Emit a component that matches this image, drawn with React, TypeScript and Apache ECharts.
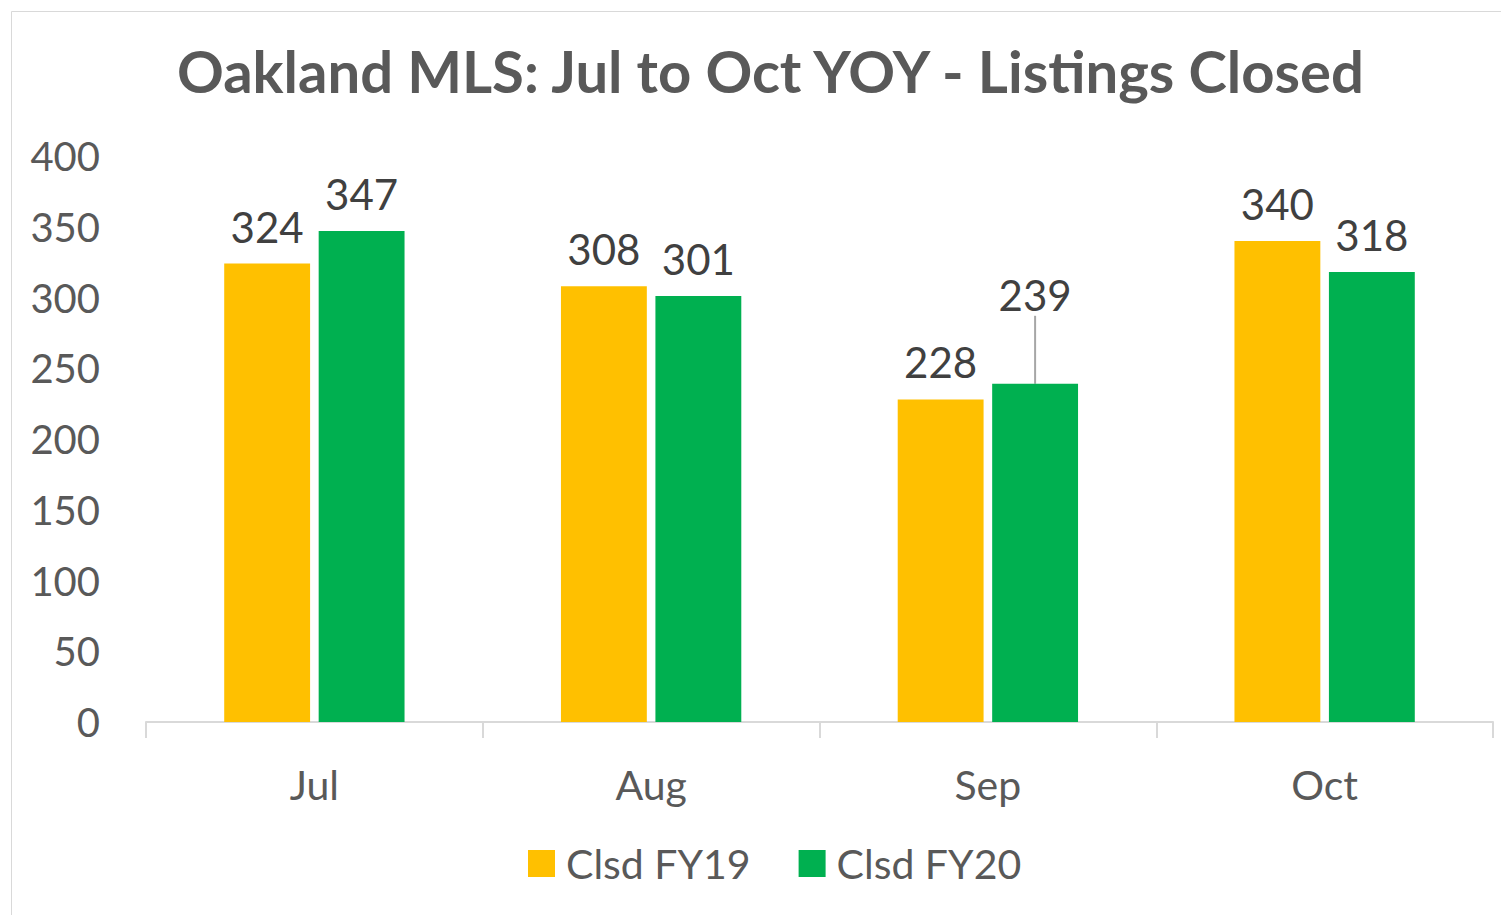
import React, { useEffect, useRef } from "react";
import * as echarts from "echarts";

const categories = ["Jul", "Aug", "Sep", "Oct"];
const fy19 = [324, 308, 228, 340];
const fy20 = [347, 301, 239, 318];
const seriesNames = ["Clsd FY19", "Clsd FY20"];
const titleText = "Oakland MLS: Jul to Oct YOY - Listings Closed";

const FONT = "Lato, 'Open Sans', sans-serif";

export default function App() {
  const ref = useRef<HTMLDivElement>(null);
  useEffect(() => {
    if (!ref.current) return;
    const chart = echarts.init(ref.current, undefined, { renderer: "svg" });
    const labelBase = {
      show: true,
      position: "top",
      distance: 16,
      fontSize: 42,
      color: "#404040",
      fontFamily: FONT,
    };
    chart.setOption({
      animation: false,
      backgroundColor: "#ffffff",
      textStyle: { fontFamily: FONT },
      graphic: [
        {
          type: "rect",
          shape: { x: 11.5, y: 11.5, width: 1500, height: 920 },
          style: { fill: "none", stroke: "#d9d9d9", lineWidth: 1 },
          silent: true,
        },
      ],
      title: {
        text: titleText,
        left: 172,
        top: 36,
        textStyle: { fontSize: 58, fontWeight: "bold", color: "#595959", fontFamily: FONT },
      },
      legend: {
        bottom: 26,
        left: 523,
        itemWidth: 27,
        itemHeight: 27,
        itemGap: 48,
        icon: "rect",
        textStyle: { fontSize: 41, color: "#595959", fontFamily: FONT, padding: [0, 0, 0, 6] },
        data: seriesNames,
      },
      grid: { left: 146, right: 8, top: 156, bottom: 193 },
      xAxis: {
        type: "category",
        data: categories,
        axisLine: { lineStyle: { color: "#d9d9d9", width: 2 } },
        axisTick: { show: true, length: 16, lineStyle: { color: "#d9d9d9", width: 2 } },
        axisLabel: { fontSize: 41, color: "#595959", margin: 42, fontFamily: FONT },
      },
      yAxis: {
        type: "value",
        min: 0,
        max: 400,
        interval: 50,
        splitLine: { show: false },
        axisLine: { show: false },
        axisTick: { show: false },
        axisLabel: { fontSize: 40, color: "#595959", margin: 46, fontFamily: FONT },
      },
      series: [
        {
          name: seriesNames[0],
          type: "bar",
          data: fy19,
          barWidth: "25.5%",
          barGap: "10%",
          itemStyle: { color: "#FFC000" },
          label: labelBase,
        },
        {
          name: seriesNames[1],
          type: "bar",
          data: fy20.map((v, i) =>
            i === 2
              ? {
                  value: v,
                  labelLine: { show: true, lineStyle: { color: "#a6a6a6", width: 2 } },
                }
              : v
          ),
          barWidth: "25.5%",
          itemStyle: { color: "#00B050" },
          label: labelBase,
          labelLayout: (p: any) => (p.dataIndex === 2 ? { dy: -52 } : {}),
        },
      ],
    });
    return () => chart.dispose();
  }, []);
  return (
    <div
      ref={ref}
      style={{ position: "fixed", left: 0, top: 0, width: 1501, height: 915 }}
    />
  );
}
